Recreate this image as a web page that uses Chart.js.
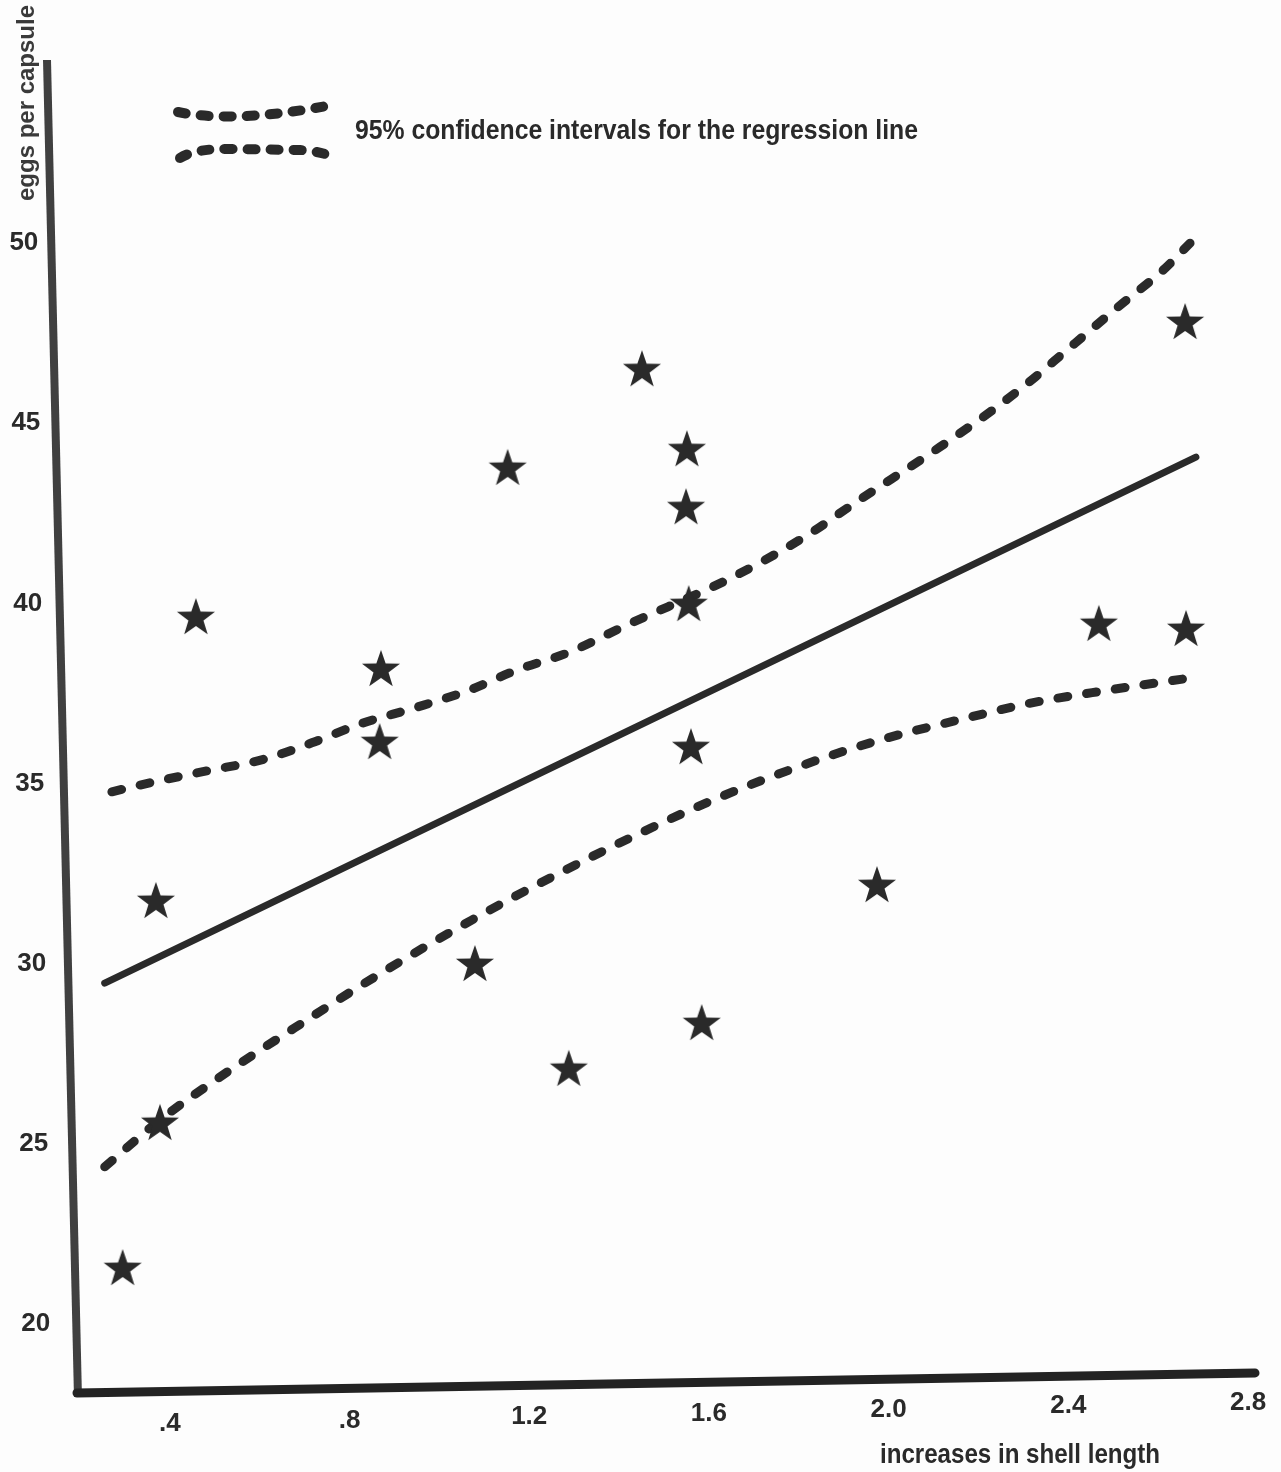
<!DOCTYPE html>
<html>
<head>
<meta charset="utf-8">
<script src="https://cdn.jsdelivr.net/npm/chart.js@4.4.1/dist/chart.umd.min.js"></script>
<style>
  html, body { margin: 0; padding: 0; background: #fdfdfd; }
  #wrap { width: 1281px; height: 1472px; position: relative; }
</style>
</head>
<body>
<div id="wrap"><canvas id="grafica"></canvas></div>
<script>
// observed snails: increase in shell length vs eggs per capsule
const shellX = [0.295, 0.378, 0.369, 0.458, 0.870, 0.867, 1.079, 1.152, 1.288, 1.451,
                1.551, 1.549, 1.555, 1.560, 1.584, 1.974, 2.468, 2.662, 2.660];
const eggsY = [21.58, 25.61, 31.77, 39.65, 38.21, 36.18, 30.02, 43.79, 27.11, 46.53,
               44.31, 42.70, 40.01, 36.04, 28.38, 32.21, 39.46, 39.32, 47.84];

// fitted regression line (end points)
const regX = [0.255, 2.684];
const regY = [29.46, 44.06];

// 95% confidence band, upper and lower
const upperX = [0.271, 0.355, 0.482, 0.611, 0.716, 0.830, 0.945, 1.068, 1.172, 1.290, 1.417,
                1.653, 1.820, 1.918, 2.114, 2.232, 2.326, 2.392, 2.508, 2.611, 2.671];
const upperY = [34.77, 35.02, 35.35, 35.68, 36.13, 36.68, 37.10, 37.60, 38.15, 38.65, 39.40,
                40.73, 41.90, 42.73, 44.34, 45.37, 46.28, 46.98, 48.20, 49.25, 50.00];
const lowerX = [0.255, 0.378, 0.518, 0.678, 0.856, 1.072, 1.268, 1.453, 1.620, 1.798, 1.981,
                2.154, 2.319, 2.493, 2.671];
const lowerY = [24.36, 25.66, 26.91, 28.22, 29.63, 31.21, 32.52, 33.66, 34.60, 35.46, 36.21,
                36.76, 37.24, 37.60, 37.93];

const ticksX = [0.4, 0.8, 1.2, 1.6, 2.0, 2.4, 2.8];
const ticksY = [20, 25, 30, 35, 40, 45, 50];

const ink = '#2a2a2a';
const pts = (xs, ys) => xs.map((x, i) => ({ x: x, y: ys[i] }));
const fmtX = v => v.toFixed(1).replace(/^0/, '');

// filled five-pointed star used as the point marker
const star = document.createElement('canvas');
star.width = 44; star.height = 44;
const sc = star.getContext('2d');
sc.fillStyle = ink;
sc.beginPath();
for (let i = 0; i < 10; i++) {
  const r = i % 2 === 0 ? 20 : 7.9;
  const a = -Math.PI / 2 + i * Math.PI / 5;
  sc.lineTo(22 + r * Math.cos(a), 24 + r * Math.sin(a));
}
sc.closePath();
sc.fill();

// squeeze a string horizontally so it fits the given width
function fitText(ctx, text, x, y, width, font, align) {
  ctx.font = font;
  const w = ctx.measureText(text).width;
  const k = Math.min(1, width / w);
  ctx.save();
  ctx.translate(x, y);
  ctx.scale(k, 1);
  ctx.textAlign = align;
  ctx.fillText(text, 0, 0);
  ctx.restore();
}

const dashed = {
  showLine: true,
  pointRadius: 0,
  borderColor: ink,
  borderWidth: 9,
  borderDash: [10, 19],
  borderCapStyle: 'round',
  cubicInterpolationMode: 'monotone'
};

// hand drawn axes, tick labels, titles and the key
const decor = {
  id: 'decor',
  beforeDatasetsDraw(chart) {
    const { ctx, chartArea: a } = chart;
    ctx.save();
    ctx.strokeStyle = '#404040';
    ctx.lineWidth = 8;
    ctx.beginPath();
    ctx.moveTo(a.left - 2, a.bottom + 1);
    ctx.lineTo(a.left - 2 - 0.0232 * (a.bottom - a.top + 3), a.top - 3);
    ctx.stroke();

    ctx.strokeStyle = '#232323';
    ctx.lineWidth = 9;
    ctx.lineCap = 'round';
    ctx.beginPath();
    ctx.moveTo(a.left - 3, a.bottom - 3);
    ctx.lineTo(a.right - 2, a.bottom - 3 - 0.017 * (a.right - a.left));
    ctx.stroke();

    // key: two wavy dashed strokes
    ctx.strokeStyle = ink;
    ctx.lineWidth = 10;
    ctx.setLineDash([8, 15]);
    ctx.beginPath();
    ctx.moveTo(178, 112);
    ctx.bezierCurveTo(220, 121, 280, 115, 326, 106);
    ctx.stroke();
    ctx.beginPath();
    ctx.moveTo(180, 158);
    ctx.quadraticCurveTo(196, 148, 232, 149);
    ctx.lineTo(300, 150);
    ctx.quadraticCurveTo(315, 151, 325, 154);
    ctx.stroke();
    ctx.restore();
  },
  afterDraw(chart) {
    const { ctx, chartArea: a, scales } = chart;
    ctx.save();
    ctx.fillStyle = ink;
    ctx.textBaseline = 'middle';
    ctx.font = 'bold 26px "Liberation Sans", Arial, sans-serif';

    ctx.textAlign = 'right';
    ticksY.forEach(v => {
      const py = scales.y.getPixelForValue(v);
      ctx.fillText(String(v), a.left - 29 - 0.011 * (a.bottom - py), py);
    });

    ctx.textAlign = 'center';
    ticksX.forEach(v => {
      const px = scales.x.getPixelForValue(v);
      ctx.fillText(fmtX(v), px, a.bottom + 30 - 0.02 * (px - a.left));
    });

    fitText(ctx, '95% confidence intervals for the regression line', 355, 131, 563,
            'bold 28px "Liberation Sans", Arial, sans-serif', 'left');
    fitText(ctx, 'increases in shell length', 1020, 1455, 280,
            'bold 28px "Liberation Sans", Arial, sans-serif', 'center');

    ctx.fillStyle = '#3a3a3a';
    ctx.save();
    ctx.translate(27, 103);
    ctx.rotate(-Math.PI / 2);
    fitText(ctx, 'eggs per capsule', 0, 0, 196, 'bold 24px "Liberation Sans", Arial, sans-serif', 'center');
    ctx.restore();
    ctx.restore();
  }
};

const config = {
  type: 'scatter',
  data: {
    datasets: [
      {
        label: 'eggs per capsule',
        data: pts(shellX, eggsY),
        pointStyle: star,
        pointRadius: 20,
        showLine: false
      },
      {
        label: 'regression',
        data: pts(regX, regY),
        showLine: true,
        pointRadius: 0,
        borderColor: ink,
        borderWidth: 7,
        borderCapStyle: 'round'
      },
      Object.assign({ label: 'upper 95%', data: pts(upperX, upperY) }, dashed),
      Object.assign({ label: 'lower 95%', data: pts(lowerX, lowerY) }, dashed)
    ]
  },
  options: {
    responsive: true,
    maintainAspectRatio: false,
    animation: false,
    layout: { padding: { top: 63, right: 24, left: 0, bottom: 0 } },
    plugins: {
      legend: { display: false },
      tooltip: { enabled: false }
    },
    scales: {
      x: {
        type: 'linear',
        min: 0.2,
        max: 2.82,
        grid: { display: false, drawTicks: false },
        border: { display: false },
        ticks: { display: false },
        afterBuildTicks: s => { s.ticks = ticksX.map(v => ({ value: v })); },
        afterFit: s => { s.height = 76; }
      },
      y: {
        type: 'linear',
        min: 18,
        max: 55,
        grid: { display: false, drawTicks: false },
        border: { display: false },
        ticks: { display: false },
        afterBuildTicks: s => { s.ticks = ticksY.map(v => ({ value: v })); },
        afterFit: s => { s.width = 80; }
      }
    }
  },
  plugins: [decor]
};

const chart = new Chart(document.querySelector('#grafica'), config);
</script>
</body>
</html>
